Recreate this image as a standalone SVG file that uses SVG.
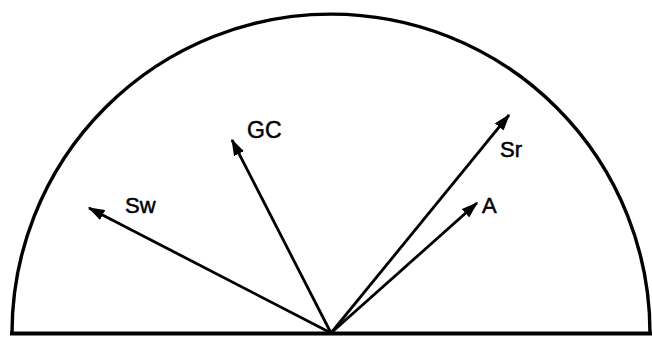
<svg xmlns="http://www.w3.org/2000/svg" width="652" height="337" viewBox="0 0 652 337">
<defs>
<marker id="ah" markerWidth="6" markerHeight="4" refX="5.5" refY="2" orient="auto" markerUnits="strokeWidth">
<path d="M0,0 L6,2 L0,4 Z" fill="#000"/>
</marker>
<style>
.ln{stroke:#000;stroke-width:3.4;fill:none}
.ar{stroke:#000;stroke-width:2.8;fill:none;marker-end:url(#ah)}
.lb{font-family:"Liberation Sans",Arial,sans-serif;font-size:22px;fill:#000;stroke:#000;stroke-width:0.5}
</style>
</defs>
<g id="dome">
<path class="ln" d="M12,333 A319,319 0 0 1 650,333"/>
<line x1="10" y1="333.5" x2="652" y2="333.5" stroke="#000" stroke-width="4.2"/>
</g>
<g id="connectors">
<line class="ar" x1="331" y1="333" x2="89" y2="208"/>
<line class="ar" x1="331" y1="333" x2="232" y2="140"/>
<line class="ar" x1="331" y1="333" x2="509" y2="115"/>
<line class="ar" x1="331" y1="333" x2="477" y2="203"/>
</g>
<g id="Sw"><text class="lb" x="125" y="213">Sw</text></g>
<g id="GC"><text class="lb" x="247" y="138" style="font-size:23px">GC</text></g>
<g id="Sr"><text class="lb" x="500" y="157">Sr</text></g>
<g id="A"><text class="lb" x="482" y="213">A</text></g>
</svg>
